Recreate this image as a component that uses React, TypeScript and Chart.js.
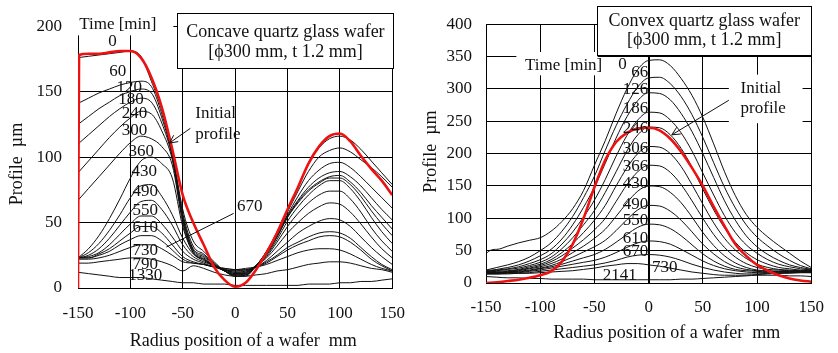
import React, { useEffect, useRef } from "react";
import { Chart, registerables } from "chart.js";

Chart.register(...registerables);

const SERIF = "'Liberation Serif', 'Times New Roman', Times, serif";

// ---------- shared radius positions (mm) ----------
const radius = [-150, -140, -130, -120, -110, -100, -90, -80, -70, -60, -50, -40, -30, -20, -10, 0, 10, 20, 30, 40, 50, 60, 70, 80, 90, 100, 110, 120, 130, 140, 150];

// ---------- Concave wafer (left) ----------
const concaveInitialRadius = [-150, -149, -140, -130, -120, -110, -100, -90, -80, -70, -60, -50, -40, -30, -20, -10, 0, 10, 20, 30, 40, 50, 60, 70, 80, 90, 100, 110, 120, 130, 140, 150];
const concaveInitial = [0, 178, 179, 179, 180, 181, 181, 176, 161, 138, 106, 71, 50, 33, 16, 6, 1, 4, 14, 27, 42, 60, 77, 95, 108, 116, 118, 112, 101, 91, 82, 71];

const concaveT0 = [176, 177, 178, 179, 180, 181, 177, 158, 136, 104, 60, 36, 28, 20, 13, 9, 9, 17, 28, 43, 60, 77, 95, 107, 114, 116, 113, 106, 97, 88, 79];
const concaveT60 = [141, 145, 149, 152, 155, 157, 158, 154, 133, 102, 57, 32, 26, 19, 13, 9, 10, 17, 28, 42, 58, 74, 89, 100, 105, 107, 104, 98, 92, 85, 77];
const concaveT120 = [125, 131, 137, 142, 147, 150, 152, 149, 130, 101, 55, 30, 25, 18, 13, 10, 10, 17, 27, 41, 56, 70, 82, 90, 95, 96, 92, 85, 77, 69, 61];
const concaveT180 = [110, 117, 124, 131, 137, 142, 145, 142, 126, 100, 54, 29, 24, 18, 13, 10, 10, 17, 27, 40, 55, 67, 77, 84, 88, 89, 85, 78, 69, 60, 52];
const concaveT240 = [88, 97, 106, 115, 123, 130, 135, 133, 120, 98, 52, 28, 23, 17, 13, 10, 11, 17, 26, 39, 54, 66, 75, 81, 85, 86, 81, 73, 63, 54, 45];
const concaveT300 = [67, 76, 85, 94, 103, 111, 116, 114, 108, 94, 50, 27, 22, 17, 13, 11, 11, 17, 26, 39, 54, 65, 74, 80, 84, 84, 79, 70, 59, 49, 40];
const concaveT360 = [23, 30, 40, 53, 68, 84, 97, 100, 95, 84, 47, 27, 22, 17, 14, 11, 12, 17, 25, 37, 51, 62, 71, 78, 82, 82, 76, 66, 54, 43, 34];
const concaveT430 = [23, 27, 34, 44, 56, 69, 78, 79, 70, 56, 38, 26, 21, 17, 14, 12, 12, 17, 24, 35, 47, 57, 65, 71, 74, 74, 68, 58, 46, 36, 28];
const concaveT490 = [23, 25, 30, 38, 48, 58, 66, 67, 60, 48, 33, 24, 20, 17, 14, 12, 13, 17, 23, 32, 42, 50, 57, 62, 65, 64, 58, 49, 39, 30, 23];
const concaveT550 = [23, 24, 27, 33, 41, 49, 55, 55, 49, 39, 28, 22, 19, 16, 14, 13, 13, 16, 21, 28, 35, 42, 47, 51, 53, 52, 47, 39, 31, 24, 18];
const concaveT610 = [23, 23, 26, 30, 36, 42, 47, 47, 42, 33, 24, 20, 18, 16, 14, 13, 14, 16, 20, 25, 31, 35, 39, 42, 43, 42, 38, 31, 24, 18, 14];
const concaveT670 = [23, 23, 25, 28, 33, 37, 40, 40, 36, 29, 22, 19, 18, 16, 15, 14, 14, 16, 19, 24, 29, 33, 36, 39, 40, 39, 35, 29, 22, 17, 13];
const concaveT730 = [22, 22, 23, 25, 28, 31, 33, 33, 30, 25, 20, 19, 18, 16, 15, 14, 15, 16, 18, 21, 24, 27, 29, 30, 30, 29, 26, 22, 18, 15, 13];
const concaveT790 = [19, 19, 20, 21, 22, 23, 23, 22, 20, 17, 13, 17, 15, 12, 10, 9, 9, 10, 11, 13, 14, 16, 18, 19, 20, 20, 19, 17, 15, 14, 12];
const concaveT1330 = [12, 11, 10, 9, 8, 8, 8, 7, 6, 5, 4, 4, 3, 3, 3, 2, 2, 2, 2, 2, 2, 2, 3, 3, 3, 4, 4, 5, 5, 6, 7];

const concaveSeries = [concaveT0, concaveT60, concaveT120, concaveT180, concaveT240, concaveT300, concaveT360, concaveT430, concaveT490, concaveT550, concaveT610, concaveT670, concaveT730, concaveT790, concaveT1330];

// ---------- Convex wafer (right) ----------
const convexInitial = [0, 1, 3, 5, 8, 12, 18, 33, 60, 100, 148, 190, 218, 232, 239, 240, 236, 223, 203, 178, 150, 118, 88, 60, 42, 28, 19, 12, 7, 4, 2];

const convexT0Radius = [-150, -149.9, -140, -130, -120, -110, -100, -90, -80, -70, -60, -50, -40, -30, -20, -10, 0, 10, 20, 30, 40, 50, 60, 70, 80, 90, 100, 110, 120, 130, 140, 150];
const convexT0 = [16, 45, 52, 57, 62, 66, 70, 80, 95, 115, 143, 182, 220, 262, 300, 330, 344, 345, 336, 316, 290, 256, 215, 172, 135, 106, 86, 71, 58, 46, 34, 24];
const convexT66 = [20, 24, 28, 33, 40, 50, 62, 80, 103, 132, 165, 205, 243, 276, 303, 317, 318, 308, 288, 260, 225, 186, 148, 116, 90, 71, 57, 45, 35, 27, 22];
const convexT126 = [19, 21, 24, 28, 34, 42, 52, 68, 90, 117, 148, 185, 224, 257, 282, 294, 293, 283, 262, 234, 200, 163, 127, 97, 73, 56, 44, 35, 28, 24, 21];
const convexT186 = [18, 20, 22, 25, 30, 36, 45, 60, 79, 102, 128, 160, 196, 228, 252, 264, 263, 252, 232, 204, 170, 136, 104, 78, 59, 46, 36, 29, 25, 22, 20];
const convexT246 = [18, 19, 21, 23, 27, 32, 40, 53, 70, 90, 112, 140, 172, 204, 229, 241, 240, 229, 208, 179, 145, 113, 85, 63, 47, 36, 29, 24, 22, 20, 20];
const convexT306 = [17, 18, 19, 21, 25, 29, 36, 47, 61, 78, 97, 120, 150, 178, 200, 211, 210, 200, 180, 152, 122, 93, 69, 51, 38, 29, 24, 21, 20, 19, 19];
const convexT366 = [17, 17, 18, 20, 23, 27, 33, 42, 54, 67, 82, 100, 126, 152, 172, 182, 181, 171, 152, 127, 100, 75, 55, 40, 30, 24, 21, 20, 19, 19, 19];
const convexT430 = [16, 16, 17, 19, 22, 25, 30, 37, 47, 57, 69, 83, 103, 124, 142, 150, 149, 140, 124, 102, 78, 58, 42, 31, 24, 20, 19, 18, 18, 18, 18];
const convexT490 = [16, 16, 17, 18, 20, 23, 27, 33, 40, 48, 56, 66, 81, 98, 113, 120, 119, 111, 97, 79, 60, 45, 33, 25, 21, 19, 18, 18, 18, 18, 18];
const convexT550 = [15, 15, 16, 17, 19, 22, 25, 29, 34, 39, 44, 52, 63, 75, 86, 91, 90, 84, 73, 59, 45, 34, 26, 21, 19, 18, 17, 17, 17, 17, 17];
const convexT610 = [15, 15, 16, 16, 18, 20, 23, 26, 29, 32, 35, 40, 47, 55, 62, 65, 64, 60, 52, 43, 34, 27, 22, 19, 17, 16, 16, 16, 16, 17, 17];
const convexT670 = [14, 14, 15, 15, 16, 18, 20, 22, 24, 26, 28, 31, 35, 40, 43, 44, 43, 40, 35, 29, 24, 20, 17, 15, 14, 14, 15, 15, 16, 16, 16];
const convexT730 = [14, 14, 14, 15, 15, 16, 17, 18, 19, 21, 23, 26, 28, 30, 30, 28, 26, 23, 20, 17, 15, 13, 12, 12, 12, 13, 14, 15, 15, 16, 16];
const convexT2141 = [10, 9, 8, 8, 7, 7, 6, 6, 6, 6, 5, 5, 5, 5, 5, 5, 5, 5, 6, 6, 7, 8, 9, 10, 11, 12, 12, 12, 11, 11, 10];

const convexSeries = [convexT66, convexT126, convexT186, convexT246, convexT306, convexT366, convexT430, convexT490, convexT550, convexT610, convexT670, convexT730, convexT2141];

// ---------- text ----------
const xTitle = "Radius position of a wafer  mm";
const yTitle = "Profile  µm";

type Ann =
  | { t: "fill"; x0: number; y0: number; x1: number; y1: number }
  | { t: "frame"; x0: number; y0: number; x1: number; y1: number }
  | { t: "text"; s: string; x: number; y: number; align: CanvasTextAlign; size: number }
  | { t: "vtext"; s: string; x: number; y: number; size: number }
  | { t: "line"; x0: number; y0: number; x1: number; y1: number; head: boolean };

const concaveNotes: Ann[] = [
  { t: "fill", x0: -154, y0: 193, x1: -59, y1: 214 },
  { t: "frame", x0: -55.5, y0: 168, x1: 151, y1: 210 },
  { t: "text", s: "Time [min]", x: -112, y: 201, align: "center", size: 17 },
  { t: "text", s: "Concave quartz glass wafer", x: 48, y: 195.4, align: "center", size: 18 },
  { t: "text", s: "[ϕ300 mm, t 1.2 mm]", x: 48, y: 180, align: "center", size: 18 },
  { t: "text", s: "0", x: -117, y: 188.5, align: "center", size: 17 },
  { t: "text", s: "60", x: -112, y: 165.6, align: "center", size: 17 },
  { t: "text", s: "120", x: -101, y: 153, align: "center", size: 17 },
  { t: "text", s: "180", x: -99.5, y: 144, align: "center", size: 17 },
  { t: "text", s: "240", x: -96, y: 133, align: "center", size: 17 },
  { t: "text", s: "300", x: -96, y: 120.6, align: "center", size: 17 },
  { t: "text", s: "360", x: -89.5, y: 104, align: "center", size: 17 },
  { t: "text", s: "430", x: -86.7, y: 89, align: "center", size: 17 },
  { t: "text", s: "490", x: -85.8, y: 74, align: "center", size: 17 },
  { t: "text", s: "550", x: -85.8, y: 59, align: "center", size: 17 },
  { t: "text", s: "610", x: -85.8, y: 46, align: "center", size: 17 },
  { t: "text", s: "730", x: -85.8, y: 29, align: "center", size: 17 },
  { t: "text", s: "790", x: -85.8, y: 18.3, align: "center", size: 17 },
  { t: "text", s: "1330", x: -85.8, y: 9.2, align: "center", size: 17 },
  { t: "text", s: "670", x: 14, y: 62.6, align: "center", size: 17 },
  { t: "text", s: "Initial", x: -38, y: 133, align: "left", size: 17 },
  { t: "text", s: "profile", x: -38, y: 117, align: "left", size: 17 },
  { t: "line", x0: -42.7, y0: 122, x1: -62.8, y1: 110.7, head: true },
  { t: "line", x0: -1.4, y0: 57, x1: -65.6, y1: 31.3, head: false },
  { t: "text", s: xTitle, x: 7.8, y: -40.5, align: "center", size: 18 },
  { t: "vtext", s: yTitle, x: -207.8, y: 94.7, size: 18 },
];

const convexNotes: Ann[] = [
  { t: "fill", x0: -122, y0: 321, x1: -47, y1: 357 },
  { t: "fill", x0: 74, y0: 247, x1: 142, y1: 322 },
  { t: "frame", x0: -47.6, y0: 352.7, x1: 150.1, y1: 427.6 },
  { t: "text", s: "Convex quartz glass wafer", x: 51.3, y: 404.7, align: "center", size: 18 },
  { t: "text", s: "[ϕ300 mm, t 1.2 mm]", x: 51.3, y: 375.6, align: "center", size: 18 },
  { t: "text", s: "Time [min]", x: -78.4, y: 336, align: "center", size: 17 },
  { t: "text", s: "0", x: -24, y: 337.5, align: "center", size: 17 },
  { t: "text", s: "66", x: -0.4, y: 325, align: "right", size: 17 },
  { t: "text", s: "126", x: -0.4, y: 299, align: "right", size: 17 },
  { t: "text", s: "186", x: -0.4, y: 269, align: "right", size: 17 },
  { t: "text", s: "246", x: -0.4, y: 238, align: "right", size: 17 },
  { t: "text", s: "306", x: -0.4, y: 208, align: "right", size: 17 },
  { t: "text", s: "366", x: -0.4, y: 180, align: "right", size: 17 },
  { t: "text", s: "430", x: -0.4, y: 153, align: "right", size: 17 },
  { t: "text", s: "490", x: -0.4, y: 122, align: "right", size: 17 },
  { t: "text", s: "550", x: -0.4, y: 96, align: "right", size: 17 },
  { t: "text", s: "610", x: -0.4, y: 69, align: "right", size: 17 },
  { t: "text", s: "670", x: -0.4, y: 49, align: "right", size: 17 },
  { t: "text", s: "730", x: 3, y: 24, align: "left", size: 17 },
  { t: "text", s: "2141", x: -26.7, y: 12, align: "center", size: 17 },
  { t: "text", s: "Initial", x: 84.8, y: 300.8, align: "left", size: 17 },
  { t: "text", s: "profile", x: 84.8, y: 270.3, align: "left", size: 17 },
  { t: "line", x0: 74, y0: 282.5, x1: 21.4, y1: 229, head: true },
  { t: "text", s: xTitle, x: 16.8, y: -77.9, align: "center", size: 18 },
  { t: "vtext", s: yTitle, x: -200.8, y: 203, size: 18 },
];

function annotate(notes: Ann[]) {
  return {
    id: "notes",
    afterDraw(chart: any) {
      const { ctx } = chart;
      const xs = chart.scales.x;
      const ys = chart.scales.y;
      const px = (v: number) => xs.getPixelForValue(v);
      const py = (v: number) => ys.getPixelForValue(v);
      ctx.save();
      for (const a of notes) {
        if (a.t === "fill") {
          ctx.fillStyle = "#fff";
          ctx.fillRect(px(a.x0), py(a.y1), px(a.x1) - px(a.x0), py(a.y0) - py(a.y1));
        } else if (a.t === "frame") {
          const l = Math.round(px(a.x0)) + 0.5;
          const r = Math.round(px(a.x1)) + 0.5;
          const tp = Math.round(py(a.y1)) + 0.5;
          const bt = Math.round(py(a.y0)) + 0.5;
          ctx.fillStyle = "#fff";
          ctx.fillRect(l, tp, r - l, bt - tp);
          ctx.strokeStyle = "#000";
          ctx.lineWidth = 1;
          ctx.strokeRect(l, tp, r - l, bt - tp);
        } else if (a.t === "text") {
          ctx.fillStyle = "#111";
          ctx.font = `${a.size}px ${SERIF}`;
          ctx.textAlign = a.align;
          ctx.textBaseline = "middle";
          ctx.fillText(a.s, px(a.x), py(a.y));
        } else if (a.t === "vtext") {
          ctx.save();
          ctx.translate(px(a.x), py(a.y));
          ctx.rotate(-Math.PI / 2);
          ctx.fillStyle = "#111";
          ctx.font = `${a.size}px ${SERIF}`;
          ctx.textAlign = "center";
          ctx.textBaseline = "middle";
          ctx.fillText(a.s, 0, 0);
          ctx.restore();
        } else if (a.t === "line") {
          const x0 = px(a.x0), y0 = py(a.y0), x1 = px(a.x1), y1 = py(a.y1);
          ctx.strokeStyle = "#111";
          ctx.lineWidth = 1;
          ctx.beginPath();
          ctx.moveTo(x0, y0);
          ctx.lineTo(x1, y1);
          if (a.head) {
            const ang = Math.atan2(y1 - y0, x1 - x0);
            const len = 9;
            ctx.moveTo(x1, y1);
            ctx.lineTo(x1 - len * Math.cos(ang - 0.45), y1 - len * Math.sin(ang - 0.45));
            ctx.moveTo(x1, y1);
            ctx.lineTo(x1 - len * Math.cos(ang + 0.45), y1 - len * Math.sin(ang + 0.45));
          }
          ctx.stroke();
        }
      }
      ctx.restore();
    },
  };
}

function line(xs: number[], ys: number[], color: string, width: number, order: number) {
  return {
    data: xs.map((x, i) => ({ x, y: ys[i] })),
    borderColor: color,
    borderWidth: width,
    pointRadius: 0,
    fill: false,
    cubicInterpolationMode: "monotone" as const,
    order,
  };
}

function makeOptions(p: {
  ymax: number;
  padRight: number;
  padTop: number;
  yWidth: number;
  xHeight: number;
  yTickPad: number;
  xTickPad: number;
  thickZero: boolean;
}) {
  const font = { family: SERIF, size: 17 };
  return {
    responsive: false,
    animation: false as const,
    events: [],
    layout: { padding: { left: 0, right: p.padRight, top: p.padTop, bottom: 0 } },
    plugins: { legend: { display: false }, tooltip: { enabled: false } },
    scales: {
      x: {
        type: "linear" as const,
        min: -150,
        max: 150,
        ticks: { stepSize: 50, font, color: "#111", padding: p.xTickPad, maxRotation: 0, autoSkip: false },
        grid: {
          color: "#000",
          lineWidth: (c: any) => (p.thickZero && c.tick && c.tick.value === 0 ? 2 : 1),
          drawTicks: false,
        },
        border: { color: "#000", width: 1 },
        title: { display: false },
        afterFit: (s: any) => {
          s.height = p.xHeight;
        },
      },
      y: {
        type: "linear" as const,
        min: 0,
        max: p.ymax,
        ticks: { stepSize: 50, font, color: "#111", padding: p.yTickPad },
        grid: { color: "#000", lineWidth: 1, drawTicks: false },
        border: { color: "#000", width: 1 },
        title: { display: false },
        afterFit: (s: any) => {
          s.width = p.yWidth;
        },
      },
    },
  };
}

function ConcaveChart() {
  const ref = useRef<HTMLCanvasElement | null>(null);
  useEffect(() => {
    if (!ref.current) return;
    const datasets: any[] = [line(concaveInitialRadius, concaveInitial, "#ee1111", 2.6, 0)];
    concaveSeries.forEach((s) => datasets.push(line(radius, s, "#111", 1, 1)));
    const chart = new Chart(ref.current, {
      type: "line",
      data: { datasets },
      options: makeOptions({
        ymax: 200,
        padRight: 15,
        padTop: 26,
        yWidth: 78,
        xHeight: 65,
        yTickPad: 16,
        xTickPad: 15,
        thickZero: false,
      }) as any,
      plugins: [annotate(concaveNotes)],
    });
    return () => chart.destroy();
  }, []);
  return <canvas ref={ref} width={420} height={353} style={{ position: "absolute", left: 0, top: 0, width: 420, height: 353 }} />;
}

function ConvexChart() {
  const ref = useRef<HTMLCanvasElement | null>(null);
  useEffect(() => {
    if (!ref.current) return;
    const datasets: any[] = [line(radius, convexInitial, "#ee1111", 2.6, 0)];
    datasets.push(line(convexT0Radius, convexT0, "#111", 1, 1));
    convexSeries.forEach((s) => datasets.push(line(radius, s, "#111", 1, 1)));
    const chart = new Chart(ref.current, {
      type: "line",
      data: { datasets },
      options: makeOptions({
        ymax: 400,
        padRight: 21,
        padTop: 21,
        yWidth: 66,
        xHeight: 70,
        yTickPad: 14,
        xTickPad: 14,
        thickZero: true,
      }) as any,
      plugins: [annotate(convexNotes)],
    });
    return () => chart.destroy();
  }, []);
  return <canvas ref={ref} width={418} height={353} style={{ position: "absolute", left: 420, top: 0, width: 418, height: 353 }} />;
}

export default function App() {
  return (
    <div style={{ position: "absolute", left: 0, top: 0, width: 838, height: 353, background: "#fff", overflow: "hidden" }}>
      <ConcaveChart />
      <ConvexChart />
    </div>
  );
}
